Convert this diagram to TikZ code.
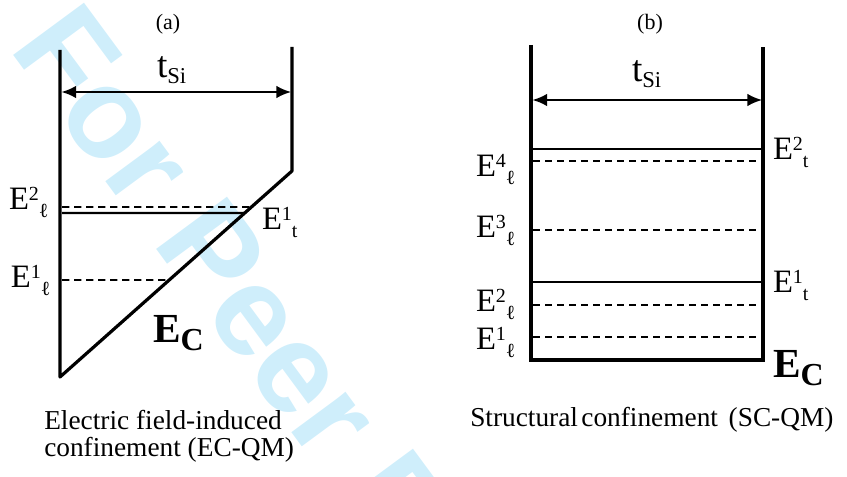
\documentclass[tikz,border=0pt]{standalone}
\usepackage{fontspec}
\setmainfont{Liberation Serif}
\newfontfamily\wmfont{Liberation Sans}
\usetikzlibrary{arrows.meta}
\definecolor{wm}{RGB}{207,238,251}
\newcommand\fs[1]{\fontsize{#1}{#1}\selectfont}
\newcommand\elab[2]{{\fs{24.5pt}E\raisebox{7pt}{\fs{15pt}#1}\raisebox{-5.5pt}{\fs{15pt}#2}}}
\newcommand\ecl{{\fs{31pt}\bfseries E\raisebox{-5.5pt}{\fs{24pt}C}}}
\newcommand\tsi{{\fs{28pt}t\raisebox{-4pt}{\fs{17pt}Si}}}
\begin{document}
\begin{tikzpicture}[x=0.75pt,y=-0.75pt,
  wall/.style={line width=2.4pt, line join=round},
  lvlsolid/.style={line width=1.6pt},
  lvldash/.style={line width=1.2pt, dash pattern=on 5.5pt off 3.5pt},
  dim/.style={line width=1.5pt, {Latex[length=11pt,width=9.5pt]}-{Latex[length=11pt,width=9.5pt]}},
  lab/.style={anchor=base west, inner sep=0pt, outer sep=0pt},
  capt/.style={anchor=base, inner sep=0pt, font=\fs{16.5pt}},
  txt/.style={anchor=base west, inner sep=0pt, font=\fs{20.5pt}},
]
\useasboundingbox (0,0) rectangle (847,477);
% watermark
\node[rotate=-53.6, anchor=base west, inner sep=0pt, text=wm, font=\wmfont\bfseries\fs{96pt}] (wmark) at (8,48) {For Peer Review};

% ---------- panel (a)
\coordinate (aLT) at (60,50);
\coordinate (aLB) at (60,377);
\coordinate (aRT) at (292,47);
\coordinate (aRK) at (292,171);
\draw[wall] (aLT) -- (aLB) -- (aRK) -- (aRT);
\coordinate (aAL) at (61.5,92);
\coordinate (aAR) at (291,92);
\draw[dim] (aAL) -- (aAR);
\coordinate (a2l) at (62,207);
\coordinate (a1t) at (62,213);
\coordinate (a1l) at (62,280);
\draw[lvldash] (a2l) -- (intersection of 62,207--300,207 and aRK--aLB);
\draw[lvlsolid] (a1t) -- (intersection of 62,213--300,213 and aRK--aLB);
\draw[lvldash] (a1l) -- (intersection of 62,280--300,280 and aRK--aLB);

\node[capt] (capa) at (168,30) {(a)};
\node[lab] (atsi) at (157,78) {\tsi};
\node[lab] (aE2l) at (9,210) {\elab{2}{ℓ}};
\node[lab] (aE1l) at (11,288) {\elab{1}{ℓ}};
\node[lab] (aE1t) at (262,230) {\elab{1}{t}};
\node[lab] (aEC) at (153,343) {\ecl};
\node[txt] (atxt1) at (44,430) {Electric field-induced};
\node[txt] (atxt2) at (44,457) {confinement (EC-QM)};

% ---------- panel (b)
\coordinate (bLT) at (531,45);
\coordinate (bLB) at (531,360);
\coordinate (bRB) at (763,360);
\coordinate (bRT) at (763,47);
\draw[wall, line join=miter] (bLT) -- (bLB) -- (bRB) -- (bRT);
\coordinate (bAL) at (532.5,100);
\coordinate (bAR) at (762,100);
\draw[dim] (bAL) -- (bAR);
\foreach \yy/\sty in {149/lvlsolid,161/lvldash,230/lvldash,282/lvlsolid,305/lvldash,337/lvldash}{
  \draw[\sty] (533,\yy) -- (762,\yy);
}

\node[capt] (capb) at (650,30) {(b)};
\node[lab] (btsi) at (632,82) {\tsi};
\node[lab] (bE4l) at (476,177) {\elab{4}{ℓ}};
\node[lab] (bE3l) at (476,238) {\elab{3}{ℓ}};
\node[lab] (bE2l) at (476,312) {\elab{2}{ℓ}};
\node[lab] (bE1l) at (476,350) {\elab{1}{ℓ}};
\node[lab] (bE2t) at (773,160) {\elab{2}{t}};
\node[lab] (bE1t) at (773,293) {\elab{1}{t}};
\node[lab] (bEC) at (773,378) {\ecl};
\node[txt] (btxt) at (470,427) {Structural\hspace{2.5pt}confinement\hspace{8pt}(SC-QM)};
\end{tikzpicture}
\end{document}
